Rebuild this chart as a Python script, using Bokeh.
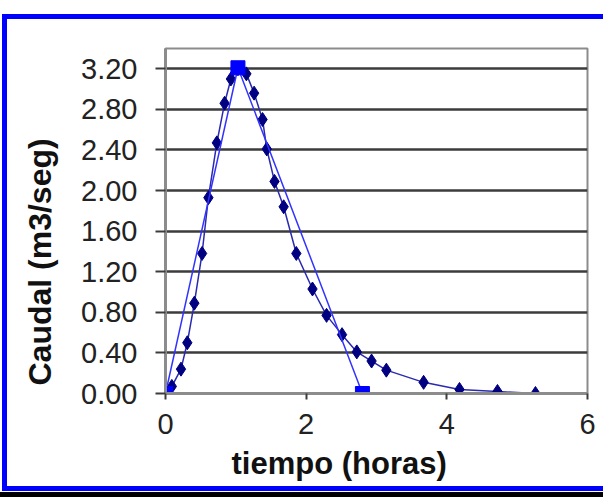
from bokeh.plotting import figure
from bokeh.models import Range1d, FixedTicker, NumeralTickFormatter, Title
from bokeh.embed import file_html
from bokeh.resources import INLINE

# ---- data ----
t_obs = [0.0, 0.09, 0.22, 0.31, 0.41, 0.52, 0.61, 0.73, 0.84, 0.93, 1.03, 1.15, 1.26, 1.38,
         1.44, 1.55, 1.68, 1.86, 2.09, 2.29, 2.51, 2.72, 2.93, 3.14, 3.67, 4.18, 4.72, 5.26]
q_obs = [0.00, 0.07, 0.24, 0.50, 0.89, 1.38, 1.93, 2.47, 2.86, 3.10, 3.20, 3.15, 2.96, 2.70,
         2.41, 2.09, 1.84, 1.38, 1.03, 0.77, 0.58, 0.41, 0.32, 0.23, 0.11, 0.04, 0.02, 0.00]
t_tri = [0.0, 1.03, 2.80]
q_tri = [0.0, 3.21, 0.0]
x_ticks = [0, 2, 4, 6]
y_ticks = [0.0, 0.4, 0.8, 1.2, 1.6, 2.0, 2.4, 2.8, 3.2]
x_title = "tiempo (horas)"
y_title = "Caudal (m3/seg)"

FONT = "Liberation Sans"

p = figure(width=603, height=497, output_backend="svg", toolbar_location=None,
           x_range=Range1d(0, 6), y_range=Range1d(0, 3.4),
           min_border_left=165, min_border_right=16, min_border_top=48, min_border_bottom=104)
p.background_fill_color = "white"
p.border_fill_alpha = 0
p.outline_line_color = "#8c8c8c"
p.outline_line_width = 2

# outer chart border (blue frame of the chart area, dark line at the bottom)
blue = "linear-gradient(#0000ff,#0000ff)"
p.styles = {
    "background": (
        f"{blue} 2px 14px / 601px 5px no-repeat, "
        f"{blue} 2px 14px / 5px 477px no-repeat, "
        f"{blue} 2px 486px / 601px 5px no-repeat, "
        "linear-gradient(#000000,#000000) 0px 492px / 603px 5px no-repeat, "
        "#ffffff"
    )
}

p.xgrid.visible = False
p.ygrid.grid_line_color = "#3c3c3c"
p.ygrid.grid_line_width = 2.5
p.ygrid.ticker = FixedTicker(ticks=y_ticks)

p.xaxis.ticker = FixedTicker(ticks=x_ticks)
p.yaxis.ticker = FixedTicker(ticks=y_ticks)
p.yaxis.formatter = NumeralTickFormatter(format="0.00")
for ax in (p.xaxis, p.yaxis):
    ax.axis_line_color = "#8c8c8c"
    ax.axis_line_width = 3
    ax.major_tick_in = 0
    ax.minor_tick_line_color = None
    ax.major_label_text_font = FONT
    ax.major_label_text_font_size = "29px"
    ax.major_label_text_color = "#222222"
    ax.major_tick_line_color = "#3c3c3c"
    ax.major_tick_line_width = 2
p.xaxis.major_tick_out = 6
p.xaxis.major_label_standoff = 14
p.yaxis.major_tick_out = 10
p.yaxis.major_label_standoff = 18

# series
p.line(t_obs, q_obs, line_color="#2a2ab0", line_width=1.5)
p.scatter(t_obs, q_obs, marker="diamond", size=14, fill_color="#000080", line_color="#000080")
p.line(t_tri, q_tri, line_color="#3333ff", line_width=1.5)
p.scatter(t_tri, q_tri, marker="square", size=14, fill_color="#0000ff", line_color="#0000ff")

# axis titles (side-panel titles, offset like the original)
p.add_layout(Title(text=x_title, align="left", offset=66, standoff=14,
                   text_font=FONT, text_font_style="bold", text_font_size="31px",
                   text_color="#111111"), "below")
p.add_layout(Title(text=y_title, align="left", offset=8, standoff=39, vertical_align="middle",
                   text_font=FONT, text_font_style="bold", text_font_size="32px",
                   text_color="#111111"), "left")

open("out.html", "w").write(file_html(p, INLINE))
